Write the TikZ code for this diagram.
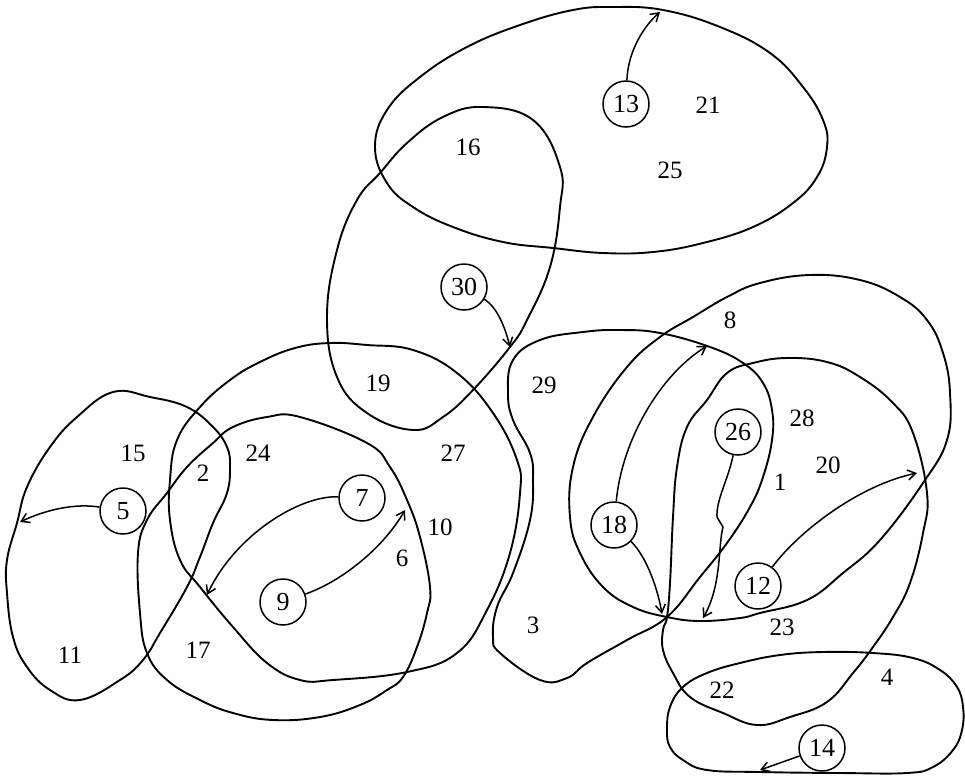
\documentclass[tikz,border=0pt]{standalone}
\usepackage{fontspec}
\setmainfont{Liberation Serif}
\usetikzlibrary{arrows.meta}
\begin{document}
\begin{tikzpicture}[x=1pt,y=-1pt,
  curve/.style={line width=1.9pt, line join=round},
  lbl/.style={font=\fontsize{25}{28}\selectfont, inner sep=0pt},
  cnum/.style={draw, circle, line width=1.5pt, minimum size=46pt, inner sep=0pt, font=\fontsize{26}{28}\selectfont},
  arr/.style={line width=1.5pt, -{Straight Barb[length=8pt,width=10pt]}}]
\useasboundingbox (0,0) rectangle (965,777);

% closed curves
\draw[curve] plot[smooth cycle, tension=0.7] coordinates {(375,147) (387,110) (420,77) (467,47) (520,25) (573,10) (613,7) (663,10) (720,27) (770,53) (803,87) (823,120) (827,147) (817,177) (793,203) (753,227) (703,243) (653,252) (603,253) (553,248) (503,242) (453,227) (413,207) (387,183)};
\draw[curve] plot[smooth cycle, tension=0.7] coordinates {(483,107) (533,120) (560,167) (560,207) (550,267) (527,320) (510,347) (473,390) (443,417) (413,430) (367,413) (337,377) (327,317) (337,250) (357,200) (380,173) (407,143) (443,117)};
\draw[curve] plot[smooth cycle, tension=0.7] coordinates {(330,343) (367,345) (413,350) (457,373) (493,413) (517,460) (520,493) (510,553) (487,610) (457,653) (407,672) (333,680) (300,680) (267,663) (233,627) (200,587) (180,560) (170,520) (170,480) (177,440) (200,407) (230,380) (260,362) (295,348)};
\draw[curve] plot[smooth cycle, tension=0.7] coordinates {(300,417) (367,443) (390,467) (407,500) (420,537) (430,587) (427,613) (417,647) (403,677) (387,690) (360,705) (320,717) (273,720) (233,713) (200,700) (167,680) (147,653) (140,613) (138,553) (147,520) (167,493) (187,467) (213,443) (233,427) (267,417)};
\draw[curve] plot[smooth cycle, tension=0.7] coordinates {(113,392) (150,397) (187,407) (213,427) (227,447) (230,467) (227,493) (213,523) (200,557) (187,587) (160,633) (143,660) (120,680) (80,700) (50,690) (27,667) (13,637) (7,593) (7,560) (17,523) (27,487) (50,447) (77,417)};
\draw[curve] plot[smooth cycle, tension=0.7] coordinates {(513,360) (540,340) (583,332) (620,330) (660,333) (710,347) (743,363) (763,383) (772,410) (772,440) (763,477) (750,507) (727,543) (700,577) (667,617) (627,640) (587,663) (567,678) (540,680) (500,653) (493,637) (497,607) (513,573) (530,520) (533,480) (530,453) (513,420) (508,393)};
\draw[curve] plot[smooth cycle, tension=0.7] coordinates {(810,275) (860,280) (900,297) (927,320) (943,353) (950,393) (947,440) (923,483) (880,540) (843,573) (807,600) (760,613) (740,618) (700,621) (667,617) (633,607) (603,587) (580,553) (570,517) (573,467) (593,417) (627,367) (660,337) (693,317) (727,297) (760,283)};
\draw[curve] plot[smooth cycle, tension=0.7] coordinates {(707,400) (727,373) (753,363) (787,358) (827,362) (860,377) (893,403) (913,433) (927,493) (923,533) (910,583) (893,617) (873,647) (853,673) (827,702) (790,717) (757,725) (723,713) (690,697) (673,673) (663,650) (663,630) (667,617) (670,583) (673,517) (677,467) (687,427)};
\draw[curve] plot[smooth cycle, tension=0.7] coordinates {(670,707) (683,687) (707,673) (740,663) (780,655) (823,652) (873,653) (913,658) (940,670) (957,687) (963,707) (962,730) (953,750) (933,767) (907,773) (840,773) (760,772) (707,770) (683,760) (670,747) (667,730)};

% region labels
\node[lbl] (l21) at (708,105) {21};
\node[lbl] (l25) at (670,170) {25};
\node[lbl] (l16) at (468,147) {16};
\node[lbl] (l19) at (378,383) {19};
\node[lbl] (l27) at (453,453) {27};
\node[lbl] (l24) at (258,453) {24};
\node[lbl] (l15) at (133,453) {15};
\node[lbl] (l2) at (203,473) {2};
\node[lbl] (l10) at (440,527) {10};
\node[lbl] (l6) at (402,558) {6};
\node[lbl] (l11) at (70,655) {11};
\node[lbl] (l17) at (198,650) {17};
\node[lbl] (l3) at (533,625) {3};
\node[lbl] (l29) at (544,385) {29};
\node[lbl] (l8) at (730,320) {8};
\node[lbl] (l28) at (802,418) {28};
\node[lbl] (l20) at (828,465) {20};
\node[lbl] (l1) at (780,482) {1};
\node[lbl] (l23) at (782,627) {23};
\node[lbl] (l22) at (722,690) {22};
\node[lbl] (l4) at (887,677) {4};

% circled numbers
\node[cnum] (n13) at (626,104) {13};
\node[cnum] (n30) at (464,287) {30};
\node[cnum] (n5) at (123,511) {5};
\node[cnum] (n7) at (362,498) {7};
\node[cnum] (n9) at (283,602) {9};
\node[cnum] (n18) at (614,525) {18};
\node[cnum] (n26) at (738,432) {26};
\node[cnum] (n12) at (758,586) {12};
\node[cnum] (n14) at (822,748) {14};

% arrow targets
\coordinate (t13) at (660,12);
\coordinate (t30) at (510,347);
\coordinate (t5) at (20,522);
\coordinate (t7) at (207,595);
\coordinate (t9) at (405,510);
\coordinate (t18a) at (707,346);
\coordinate (t18b) at (662,614);
\coordinate (t26) at (703,618);
\coordinate (t12) at (917,473);
\coordinate (t14) at (760,770);

% arrows
\draw[arr] (n13) .. controls (628,50) and (645,25) .. (t13);
\draw[arr] (n30) .. controls (497,307) and (505,327) .. (t30);
\draw[arr] (n5) .. controls (75,503) and (45,510) .. (t5);
\draw[arr] (n7) .. controls (300,495) and (235,535) .. (t7);
\draw[arr] (n9) .. controls (345,580) and (385,545) .. (t9);
\draw[arr] (n18) .. controls (622,440) and (660,375) .. (t18a);
\draw[arr] (n18) .. controls (645,555) and (657,585) .. (t18b);
\draw[arr] (n26) .. controls (728,480) and (716,500) .. (717,517) -- (723,527) .. controls (718,545) and (722,585) .. (t26);
\draw[arr] (n12) .. controls (800,530) and (860,485) .. (t12);
\draw[arr] (n14) -- (t14);
\end{tikzpicture}
\end{document}
